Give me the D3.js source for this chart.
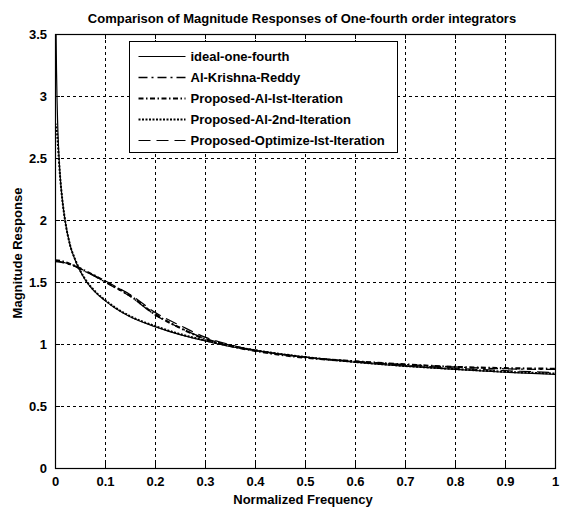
<!DOCTYPE html>
<html>
<head>
<meta charset="utf-8">
<script src="https://cdn.jsdelivr.net/npm/d3@7"></script>
<style>
  html, body { margin: 0; padding: 0; background: #fff; }
  svg { display: block; }
  text { font-family: "Liberation Sans", Arial, sans-serif; fill: #000; }
</style>
</head>
<body>
<svg id="chart" width="564" height="508"></svg>
<script>
// Magnitude responses of one-fourth order integrators (normalized frequency 0..1)
const idealFreq  = [0.002, 0.003, 0.004, 0.005, 0.0075, 0.01, 0.015, 0.02, 0.03, 0.04, 0.05, 0.06, 0.07, 0.08, 0.1, 0.12, 0.15, 0.2, 0.25, 0.3, 0.35, 0.4, 0.5, 0.6, 0.7, 0.8, 0.9, 1.0];
const idealMag   = [3.55, 3.21, 2.99, 2.82, 2.55, 2.37, 2.15, 2.00, 1.80, 1.68, 1.59, 1.52, 1.465, 1.42, 1.35, 1.29, 1.22, 1.14, 1.075, 1.025, 0.98, 0.947, 0.893, 0.853, 0.821, 0.795, 0.772, 0.755];

const approxFreq = [0, 0.01, 0.02, 0.03, 0.04, 0.05, 0.06, 0.08, 0.1, 0.12, 0.15, 0.2, 0.25, 0.3, 0.35, 0.4, 0.5, 0.6, 0.7, 0.8, 0.9, 1.0];
const krishnaReddyMag = [1.665, 1.66, 1.65, 1.64, 1.625, 1.605, 1.585, 1.545, 1.50, 1.455, 1.385, 1.235, 1.13, 1.045, 0.99, 0.95, 0.895, 0.86, 0.835, 0.815, 0.80, 0.795];
const alFirstMag      = [1.675, 1.67, 1.66, 1.645, 1.63, 1.61, 1.59, 1.55, 1.505, 1.46, 1.39, 1.24, 1.13, 1.04, 0.985, 0.945, 0.89, 0.86, 0.835, 0.815, 0.805, 0.80];
const optimizeMag     = [1.67, 1.665, 1.655, 1.645, 1.63, 1.61, 1.59, 1.55, 1.51, 1.465, 1.40, 1.255, 1.15, 1.055, 0.995, 0.95, 0.895, 0.858, 0.83, 0.805, 0.785, 0.77];

const alSecondFreq = [0, 0.003, 0.005, 0.0075, 0.01, 0.015, 0.02, 0.03, 0.04, 0.05, 0.06, 0.08, 0.1, 0.12, 0.15, 0.2, 0.25, 0.3, 0.35, 0.4, 0.5, 0.6, 0.7, 0.8, 0.9, 1.0];
const alSecondMag  = [2.78, 2.74, 2.66, 2.5, 2.36, 2.15, 2.0, 1.8, 1.685, 1.595, 1.525, 1.425, 1.355, 1.295, 1.225, 1.145, 1.08, 1.03, 0.985, 0.95, 0.895, 0.855, 0.823, 0.798, 0.776, 0.762];

const seriesNames = ["ideal-one-fourth", "Al-Krishna-Reddy", "Proposed-Al-Ist-Iteration", "Proposed-Al-2nd-Iteration", "Proposed-Optimize-Ist-Iteration"];
const xTicks = [0, 0.1, 0.2, 0.3, 0.4, 0.5, 0.6, 0.7, 0.8, 0.9, 1];
const yTicks = [0, 0.5, 1, 1.5, 2, 2.5, 3, 3.5];

const series = [
  { name: seriesNames[0], freq: idealFreq,    mag: idealMag,        dash: null,            width: 1.2 },
  { name: seriesNames[1], freq: approxFreq,   mag: krishnaReddyMag, dash: "9,4,2,4",       width: 1.3 },
  { name: seriesNames[2], freq: approxFreq,   mag: alFirstMag,      dash: "5,2.5,1.5,2.5", width: 2.2 },
  { name: seriesNames[3], freq: alSecondFreq, mag: alSecondMag,     dash: "2,1.5",         width: 2 },
  { name: seriesNames[4], freq: approxFreq,   mag: optimizeMag,     dash: "12,6",          width: 1.2 }
];

const margin = { left: 55, right: 8, top: 34, bottom: 40 };
const W = 564, H = 508;
const svg = d3.select("#chart");
const FS = 13;

const x = d3.scaleLinear().domain([0, 1]).range([margin.left, W - margin.right - 1]);
const y = d3.scaleLinear().domain([0, 3.5]).range([H - margin.bottom, margin.top]);

svg.append("defs").append("clipPath").attr("id", "plotclip")
  .append("rect")
  .attr("x", x(0)).attr("y", y(3.5))
  .attr("width", x(1) - x(0)).attr("height", y(0) - y(3.5));

// dashed grid
const grid = svg.append("g").attr("stroke", "#000").attr("stroke-width", 1)
  .attr("stroke-dasharray", "3,3").attr("shape-rendering", "crispEdges");
grid.selectAll("line.gx").data(xTicks.slice(1, -1)).join("line")
  .attr("x1", d => Math.round(x(d)) + 0.5).attr("x2", d => Math.round(x(d)) + 0.5)
  .attr("y1", y(3.5)).attr("y2", y(0));
grid.selectAll("line.gy").data(yTicks.slice(1, -1)).join("line")
  .attr("y1", d => Math.round(y(d)) + 0.5).attr("y2", d => Math.round(y(d)) + 0.5)
  .attr("x1", x(0)).attr("x2", x(1));

// axes with inward ticks on all four sides
const fontTick = g => g.selectAll("text")
  .attr("font-family", "'Liberation Sans', Arial, sans-serif")
  .attr("font-size", FS).attr("font-weight", "bold").attr("fill", "#000");

svg.append("g").attr("transform", `translate(0,${y(0)})`)
  .call(d3.axisBottom(x).tickValues(xTicks).tickFormat(d3.format("")).tickSizeInner(-5).tickSizeOuter(0).tickPadding(9))
  .call(g => g.select(".domain").remove())
  .call(fontTick);
svg.append("g").attr("transform", `translate(0,${y(3.5)})`)
  .call(d3.axisTop(x).tickValues(xTicks).tickFormat("").tickSizeInner(-5).tickSizeOuter(0))
  .call(g => g.select(".domain").remove());
svg.append("g").attr("transform", `translate(${x(0)},0)`)
  .call(d3.axisLeft(y).tickValues(yTicks).tickFormat(d3.format("")).tickSizeInner(-5).tickSizeOuter(0).tickPadding(8))
  .call(g => g.select(".domain").remove())
  .call(fontTick);
svg.append("g").attr("transform", `translate(${x(1)},0)`)
  .call(d3.axisRight(y).tickValues(yTicks).tickFormat("").tickSizeInner(-5).tickSizeOuter(0))
  .call(g => g.select(".domain").remove());

// curves
const line = d3.line().x(d => x(d[0])).y(d => y(d[1])).curve(d3.curveMonotoneX);
const curves = svg.append("g").attr("clip-path", "url(#plotclip)");
series.forEach(s => {
  curves.append("path")
    .datum(s.freq.map((f, i) => [f, s.mag[i]]))
    .attr("d", line)
    .attr("fill", "none")
    .attr("stroke", "#000")
    .attr("stroke-width", s.width)
    .attr("stroke-dasharray", s.dash);
});

// frame
svg.append("rect")
  .attr("x", x(0) + 0.5).attr("y", y(3.5) + 0.5)
  .attr("width", x(1) - x(0)).attr("height", y(0) - y(3.5))
  .attr("fill", "none").attr("stroke", "#000").attr("stroke-width", 1.2);

// legend
const lg = svg.append("g").attr("transform", "translate(129.5,41.5)");
lg.append("rect").attr("width", 268).attr("height", 111)
  .attr("fill", "#fff").attr("stroke", "#000").attr("stroke-width", 1);
series.forEach((s, i) => {
  const cy = 15 + i * 21;
  lg.append("line").attr("x1", 9).attr("x2", 56).attr("y1", cy).attr("y2", cy)
    .attr("stroke", "#000").attr("stroke-width", s.width).attr("stroke-dasharray", s.dash);
  lg.append("text").attr("x", 61).attr("y", cy + 4.5)
    .attr("font-size", FS).attr("font-weight", "bold").text(s.name);
});

// title and axis labels
svg.append("text").attr("x", 302).attr("y", 23).attr("text-anchor", "middle")
  .attr("font-size", FS).attr("font-weight", "bold")
  .text("Comparison of Magnitude Responses of One-fourth order integrators");
svg.append("text").attr("x", 303).attr("y", 504).attr("text-anchor", "middle")
  .attr("font-size", FS).attr("font-weight", "bold").text("Normalized Frequency");
svg.append("text").attr("transform", "translate(22,253) rotate(-90)").attr("text-anchor", "middle")
  .attr("font-size", FS).attr("font-weight", "bold").text("Magnitude Response");
</script>
</body>
</html>
